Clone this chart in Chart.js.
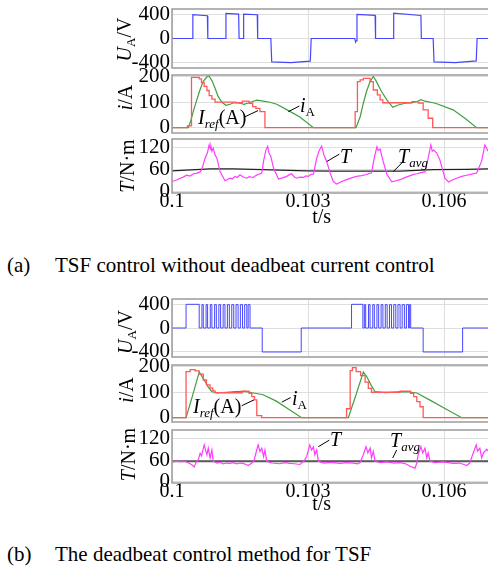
<!DOCTYPE html>
<html>
<head>
<meta charset="utf-8">
<script src="https://cdn.jsdelivr.net/npm/chart.js@4"></script>
<style>
  body { margin: 0; width: 488px; height: 566px; overflow: hidden; background: #fff; position: relative; font-family: "Liberation Serif", "Times New Roman", serif; }
  canvas { position: absolute; left: 0; }
  .cap { position: absolute; font-size: 21px; line-height: 22px; color: #000; white-space: nowrap; }
</style>
</head>
<body>
<canvas id="uA" width="488" height="71" style="top:-1px"></canvas>
<canvas id="iA" width="488" height="70" style="top:65px"></canvas>
<canvas id="tA" width="488" height="103" style="top:129px"></canvas>
<canvas id="uB" width="488" height="70" style="top:289px"></canvas>
<canvas id="iB" width="488" height="69" style="top:355px"></canvas>
<canvas id="tB" width="488" height="103" style="top:420px"></canvas>
<div class="cap" style="left:7px;top:254px">(a)</div>
<div class="cap" style="left:55px;top:254px">TSF control without deadbeat current control</div>
<div class="cap" style="left:7px;top:543px">(b)</div>
<div class="cap" style="left:55px;top:543px">The deadbeat control method for TSF</div>
<script>
const SERIF = '"Liberation Serif", "Times New Roman", serif';

// time axis
const tMin = 0.1, tMax = 0.10697;
const timeTicks = [0.1, 0.103, 0.106];
const timeTickLabels = ['0.1', '0.103', '0.106'];
const uTicks = [400, 0, -400];
const iTicks = [200, 100, 0];
const torqueTicks = [120, 60, 0];

// ---- (a) without deadbeat ----
const uA_t = [0.1, 0.10045, 0.10046, 0.10078, 0.10079, 0.10118, 0.10119, 0.10147, 0.10148, 0.10157, 0.10158, 0.10188, 0.10189, 0.10218, 0.10220, 0.10262, 0.10305, 0.10307, 0.10403, 0.10405, 0.10406, 0.10408, 0.10448, 0.10449, 0.10488, 0.10489, 0.10549, 0.10550, 0.10576, 0.10578, 0.10625, 0.10671, 0.10673, 0.10697];
const uA_v = [0, 0, 403, 386, 0, 0, 425, 414, 0, 0, 414, 403, 0, 0, -397, -408, -385, 0, 0, -60, -40, 408, 391, 0, 0, 430, 391, 0, 0, -397, -408, -380, 0, 0];

const refA_t = [0.1, 0.10034, 0.10043, 0.10060, 0.10065, 0.10071, 0.10077, 0.10082, 0.10088, 0.10095, 0.10140, 0.10155, 0.10170, 0.10178, 0.10185, 0.10194, 0.10205, 0.10404, 0.10409, 0.10415, 0.10422, 0.10437, 0.10444, 0.10453, 0.10459, 0.10465, 0.10529, 0.10543, 0.10554, 0.10565, 0.10575, 0.10697];
const refA_v = [0, 7, 198, 192, 177, 162, 146, 126, 112, 100, 98, 104, 96, 83, 76, 63, 0, 63, 181, 188, 194, 181, 148, 129, 109, 98, 102, 97, 70, 37, 0, 0];

const curA_t = [0.1, 0.10036, 0.10041, 0.10048, 0.10054, 0.10062, 0.10069, 0.10076, 0.10081, 0.10088, 0.10095, 0.10102, 0.10110, 0.10119, 0.10128, 0.10135, 0.10143, 0.10150, 0.10159, 0.10168, 0.10179, 0.10187, 0.10198, 0.10216, 0.10231, 0.10257, 0.10282, 0.10312, 0.10406, 0.10415, 0.10422, 0.10429, 0.10437, 0.10444, 0.10451, 0.10462, 0.10474, 0.10487, 0.10499, 0.10514, 0.10529, 0.10540, 0.10549, 0.10558, 0.10576, 0.10584, 0.10620, 0.10646, 0.10672, 0.10697];
const curA_v = [0, 0, 25, 70, 105, 150, 182, 198, 204, 185, 155, 122, 100, 88, 92, 97, 99, 96, 92, 97, 104, 108, 105, 100, 92, 67, 42, 0, 0, 43, 96, 142, 181, 201, 181, 142, 109, 80, 89, 96, 98, 102, 110, 104, 98, 94, 70, 37, 0, 0];

const tqA_t = [0.10000, 0.10010, 0.10018, 0.10025, 0.10032, 0.10040, 0.10047, 0.10054, 0.10062, 0.10065,
  0.10069, 0.10073, 0.10078, 0.10082, 0.10085, 0.10086, 0.10088, 0.10091, 0.10095, 0.10099,
  0.10106, 0.10117, 0.10123, 0.10128, 0.10133, 0.10139, 0.10144, 0.10150, 0.10156, 0.10165,
  0.10170, 0.10179, 0.10185, 0.10190, 0.10198, 0.10202, 0.10207, 0.10211, 0.10214, 0.10218,
  0.10224, 0.10235, 0.10244, 0.10253, 0.10258, 0.10264, 0.10270, 0.10275, 0.10282, 0.10290,
  0.10295, 0.10301, 0.10306, 0.10312, 0.10319, 0.10324, 0.10330, 0.10333, 0.10335, 0.10341,
  0.10349, 0.10356, 0.10363, 0.10374, 0.10385, 0.10396, 0.10407, 0.10418, 0.10429, 0.10435,
  0.10440, 0.10446, 0.10452, 0.10455, 0.10459, 0.10465, 0.10474, 0.10485, 0.10494, 0.10503,
  0.10512, 0.10521, 0.10530, 0.10540, 0.10549, 0.10558, 0.10565, 0.10571, 0.10574, 0.10577,
  0.10584, 0.10591, 0.10602, 0.10610, 0.10619, 0.10628, 0.10639, 0.10650, 0.10661, 0.10672,
  0.10683, 0.10690, 0.10694, 0.10697];
const tqA_v = [28, 32, 37, 40, 45, 43, 49, 50, 54, 60,
  74, 91, 105, 127, 115, 122, 110, 118, 100, 91,
  55, 30, 34, 37, 35, 42, 39, 46, 41, 37,
  41, 39, 44, 47, 51, 83, 113, 123, 105, 96,
  64, 35, 38, 42, 46, 49, 40, 37, 40, 39,
  43, 42, 47, 48, 90, 110, 124, 110, 100, 83,
  50, 28, 21, 28, 33, 38, 42, 44, 47, 50,
  51, 91, 122, 112, 116, 86, 47, 27, 30, 33,
  38, 42, 46, 49, 52, 54, 91, 127, 110, 113,
  105, 86, 37, 27, 33, 37, 42, 45, 48, 51,
  83, 127, 118, 110];

const avgA_t = [0.1, 0.10084, 0.10135, 0.1020, 0.10297, 0.10356, 0.10503, 0.10576, 0.10650, 0.10697];
const avgA_v = [57, 62, 62, 60, 57, 56, 56, 60, 61, 62];

// ---- (b) deadbeat ----
const uB_t = [0.1, 0.10031, 0.10060, 0.10199, 0.10285, 0.10396, 0.10421, 0.10554, 0.10641, 0.10697];
const uB_v = [0, 400, 0, -405, 0, 400, 0, -405, 0, 0];
// chopping edges (on, off, on, off ...)
const chopB1 = [0.100660, 0.100690, 0.100752, 0.100785, 0.100845, 0.100880, 0.100940, 0.100978, 0.101033, 0.101072, 0.101128, 0.101168, 0.101222, 0.101265, 0.101318, 0.101362, 0.101412, 0.101458, 0.101508, 0.101556, 0.101603, 0.101650, 0.101680, 0.101721];
const chopB2 = [0.104243, 0.104272, 0.104335, 0.104368, 0.104428, 0.104463, 0.104520, 0.104558, 0.104612, 0.104652, 0.104705, 0.104746, 0.104798, 0.104841, 0.104891, 0.104936, 0.104984, 0.105031, 0.105077, 0.105126, 0.105170, 0.105218, 0.105235, 0.105265];
const chopLevel = 395;

const refB_t = [0.1, 0.10031, 0.10040, 0.10051, 0.10060, 0.10069, 0.10076, 0.10084, 0.10090, 0.10095, 0.10155, 0.10170, 0.10176, 0.10182, 0.10187, 0.10198, 0.10385, 0.10393, 0.10398, 0.10406, 0.10416, 0.10426, 0.10433, 0.10440, 0.10503, 0.10526, 0.10533, 0.10540, 0.10547, 0.10554, 0.10697];
const refB_v = [0, 181, 189, 184, 171, 148, 129, 116, 105, 98, 104, 96, 83, 70, 8, 0, 35, 185, 197, 181, 165, 140, 115, 100, 104, 96, 83, 63, 43, 0, 0];

const curB_t = [0.1, 0.10031, 0.10045, 0.10060, 0.10065, 0.10072, 0.10080, 0.10088, 0.10100, 0.10120, 0.10140, 0.10160, 0.10180, 0.10201, 0.10230, 0.10260, 0.10286, 0.10389, 0.10405, 0.10422, 0.10430, 0.10440, 0.10448, 0.10470, 0.10500, 0.10518, 0.10540, 0.10570, 0.10605, 0.10639, 0.10697];
const curB_v = [0, 0, 85, 179, 165, 145, 120, 102, 98, 100, 102, 103, 97, 90, 65, 30, 0, 0, 85, 179, 160, 125, 102, 98, 101, 102, 97, 68, 33, 0, 0];

const tqB_t = [0.10000, 0.10010, 0.10018, 0.10025, 0.10032, 0.10040, 0.10045, 0.10049, 0.10053, 0.10058,
  0.10062, 0.10065, 0.10071, 0.10074, 0.10077, 0.10080, 0.10084, 0.10088, 0.10091, 0.10099,
  0.10105, 0.10113, 0.10120, 0.10128, 0.10135, 0.10143, 0.10150, 0.10157, 0.10163, 0.10168,
  0.10176, 0.10181, 0.10185, 0.10190, 0.10194, 0.10198, 0.10202, 0.10205, 0.10209, 0.10220,
  0.10238, 0.10250, 0.10260, 0.10270, 0.10282, 0.10291, 0.10297, 0.10304, 0.10308, 0.10312,
  0.10315, 0.10319, 0.10323, 0.10335, 0.10350, 0.10370, 0.10385, 0.10400, 0.10410, 0.10415,
  0.10422, 0.10428, 0.10432, 0.10437, 0.10440, 0.10444, 0.10448, 0.10460, 0.10474, 0.10490,
  0.10503, 0.10515, 0.10525, 0.10536, 0.10540, 0.10543, 0.10549, 0.10553, 0.10558, 0.10562,
  0.10565, 0.10569, 0.10580, 0.10598, 0.10620, 0.10635, 0.10650, 0.10657, 0.10663, 0.10671,
  0.10674, 0.10679, 0.10683, 0.10687, 0.10694, 0.10697];
const tqB_v = [55, 57, 56, 58, 55, 50, 46, 41, 54, 61,
  79, 72, 102, 88, 75, 93, 66, 88, 57, 52,
  54, 50, 52, 51, 53, 50, 52, 51, 48, 45,
  52, 59, 79, 102, 84, 93, 70, 88, 57, 52,
  50, 53, 51, 50, 48, 57, 70, 102, 88, 97,
  75, 88, 57, 52, 54, 51, 53, 52, 50, 54,
  75, 97, 80, 93, 66, 84, 57, 53, 55, 52,
  53, 50, 43, 38, 52, 75, 97, 80, 93, 66,
  80, 57, 53, 55, 51, 52, 45, 52, 75, 102,
  85, 93, 66, 80, 90, 85];

const avgB_t = [0.1, 0.10697];
const avgB_v = [57, 57];

// ---- helpers ----
const pts = (ts, vs) => ts.map((t, i) => ({ x: t, y: vs[i] }));

function withChops(ts, vs, chops, level) {
  const out = pts(ts, vs);
  chops.forEach((t, i) => out.push({ x: t, y: i % 2 === 0 ? level : 0 }));
  return out.sort((a, b) => a.x - b.x);
}

function line(data, color, width, stepped) {
  return { data, borderColor: color, borderWidth: width, pointRadius: 0, stepped: stepped || false, tension: 0, fill: false };
}

const it = s => 'italic ' + s + 'px ' + SERIF;
const up = s => s + 'px ' + SERIF;
const lblU = [['U', it(20)], ['A', up(13), 4], ['/V', up(20)]];
const lblI = [['i', it(20)], ['/A', up(20)]];
const lblT = [['T', it(20)], ['/N\u00b7m', up(20)]];
const noteRef = [['I', it(20)], ['ref', it(13), 4], ['(A)', up(20)]];
const noteCur = [['i', it(20)], ['A', up(13), 4]];
const noteT = [['T', it(20)]];
const noteAvg = [['T', it(20)], ['avg', it(13), 4]];

const overlays = {
  uA: { title: lblU, titleX: 124, titleDy: 1 },
  iA: { title: lblI, titleX: 125, titleDy: -6.5, notes: [
    { parts: noteRef, at: [0.100574, 43], line: [0.101610, 43, 0.101897, 67] },
    { parts: noteCur, at: [0.102824, 89], line: [0.102566, 63, 0.102809, 85] } ] },
  tA: { title: lblT, titleX: 127, titleDy: 0, xTitle: 0.103302, xTitleDy: 25, notes: [
    { parts: noteT, at: [0.103706, 98], line: [0.103412, 82, 0.103690, 102] },
    { parts: noteAvg, at: [0.104985, 98], line: [0.104882, 55, 0.105067, 78] } ] },
  uB: { title: lblU, titleX: 125, titleDy: 4 },
  iB: { title: lblI, titleX: 126, titleDy: -3.5, notes: [
    { parts: noteRef, at: [0.100463, 47], line: [0.101538, 47, 0.101809, 70] },
    { parts: noteCur, at: [0.102647, 78], line: [0.102420, 61, 0.102618, 79] } ] },
  tB: { title: lblT, titleX: 128, titleDy: -2, xTitle: 0.103302, xTitleDy: 22, notes: [
    { parts: noteT, at: [0.103485, 118], line: [0.103227, 97, 0.103470, 115] },
    { parts: noteAvg, at: [0.104809, 115], line: [0.104868, 66, 0.104956, 88] } ] },
};

function richText(ctx, parts, px, py, rotated) {
  ctx.save();
  ctx.translate(px, py);
  if (rotated) ctx.rotate(-Math.PI / 2);
  ctx.textAlign = 'left';
  ctx.textBaseline = 'alphabetic';
  let w = 0;
  parts.forEach(p => { ctx.font = p[1]; w += ctx.measureText(p[0]).width; });
  let cx = rotated ? -w / 2 : 0;
  parts.forEach(p => {
    ctx.font = p[1];
    ctx.fillText(p[0], cx, 7 + (p[2] || 0));
    cx += ctx.measureText(p[0]).width;
  });
  ctx.restore();
}

const overlay = {
  id: 'overlay',
  afterDraw(chart) {
    const o = overlays[chart.canvas.id];
    const { ctx, chartArea: a, scales: { x, y } } = chart;
    ctx.save();
    ctx.strokeStyle = '#9c9c9c';
    ctx.lineWidth = 1.5;
    ctx.strokeRect(a.left, a.top, a.width + 10, a.bottom - a.top);
    ctx.fillStyle = '#000';
    ctx.strokeStyle = '#000';
    ctx.lineWidth = 1;
    richText(ctx, o.title, o.titleX, (a.top + a.bottom) / 2 + o.titleDy, true);
    (o.notes || []).forEach(n => {
      ctx.beginPath();
      ctx.moveTo(x.getPixelForValue(n.line[0]), y.getPixelForValue(n.line[1]));
      ctx.lineTo(x.getPixelForValue(n.line[2]), y.getPixelForValue(n.line[3]));
      ctx.stroke();
      richText(ctx, n.parts, x.getPixelForValue(n.at[0]), y.getPixelForValue(n.at[1]), false);
    });
    if (o.xTitle) {
      ctx.font = up(20);
      ctx.textAlign = 'center';
      ctx.textBaseline = 'middle';
      ctx.fillText('t/s', x.getPixelForValue(o.xTitle), a.bottom + o.xTitleDy);
    }
    ctx.restore();
  }
};

function panel(id, datasets, yMin, yMax, yTicks, xHeight) {
  new Chart(document.getElementById(id), {
    type: 'line',
    data: { datasets },
    plugins: [overlay],
    options: {
      responsive: false,
      animation: false,
      events: [],
      layout: { padding: { left: 0, right: 0, top: 10, bottom: xHeight ? 0 : 2 } },
      plugins: { legend: { display: false }, tooltip: { enabled: false } },
      scales: {
        x: {
          type: 'linear', min: tMin, max: tMax,
          afterBuildTicks: s => { s.ticks = timeTicks.map(v => ({ value: v })); },
          afterFit: s => { s.height = xHeight; s.paddingLeft = 0; s.paddingRight = 0; },
          ticks: {
            display: xHeight > 0, padding: -1, color: '#000', maxRotation: 0, autoSkip: false,
            font: { family: SERIF, size: 20, lineHeight: 1 },
            callback: (v, i) => timeTickLabels[i]
          },
          grid: { color: '#dedede', drawTicks: false },
          border: { display: false }
        },
        y: {
          min: yMin, max: yMax,
          afterBuildTicks: s => { s.ticks = yTicks.map(v => ({ value: v })); },
          afterFit: s => { s.width = 172; s.paddingTop = 0; s.paddingBottom = 0; },
          ticks: { padding: 2, color: '#000', autoSkip: false, font: { family: SERIF, size: 21, lineHeight: 1 }, callback: v => String(v) },
          grid: { color: '#dedede', drawTicks: false },
          border: { display: false }
        }
      }
    }
  });
}

const BLUE = '#4646ff', RED = '#ff5858', GREEN = '#3f9f3f', MAGENTA = '#ff3cff';

panel('uA', [line(pts(uA_t, uA_v), BLUE, 1.2)], -500, 500, uTicks, 0);
panel('iA', [line(pts(refA_t, refA_v), RED, 1.3, 'before'), line(pts(curA_t, curA_v), GREEN, 1.2)], -21, 207, iTicks, 0);
panel('tA', [line(pts(tqA_t, tqA_v), MAGENTA, 1.2), line(pts(avgA_t, avgA_v), '#222', 1.2)], -3, 143, torqueTicks, 39);
panel('uB', [line(withChops(uB_t, uB_v, chopB1.concat(chopB2), chopLevel), BLUE, 1, 'before')], -490, 490, uTicks, 0);
panel('iB', [line(pts(refB_t, refB_v), RED, 1.3, 'before'), line(pts(curB_t, curB_v), GREEN, 1.2)], -17, 207, iTicks, 0);
panel('tB', [line(pts(tqB_t, tqB_v), MAGENTA, 1.2), line(pts(avgB_t, avgB_v), '#5a5a5a', 2)], -3, 143, torqueTicks, 40);
</script>
</body>
</html>
